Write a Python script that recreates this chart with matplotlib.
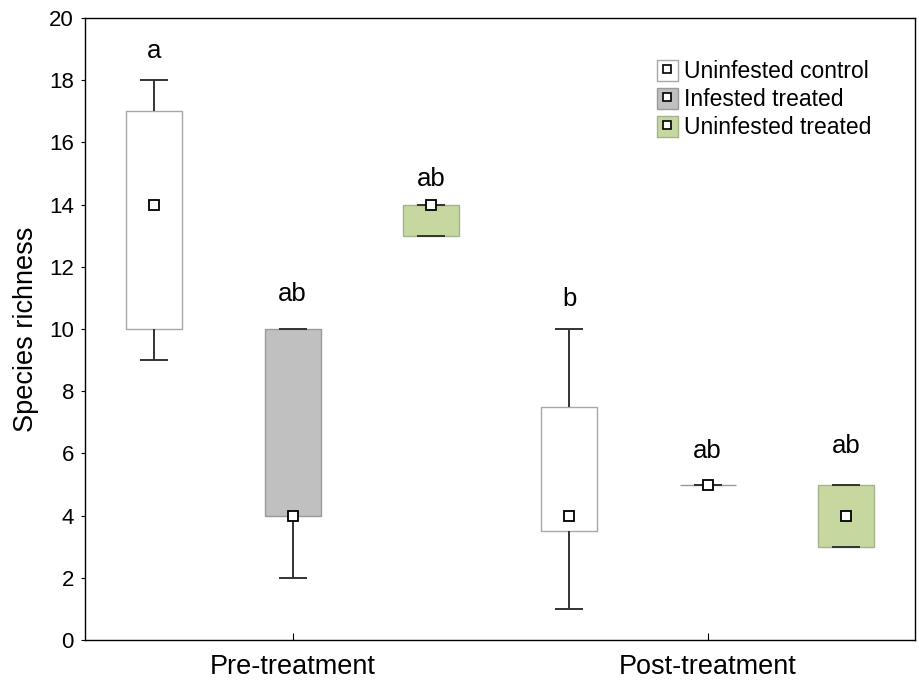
import matplotlib.pyplot as plt
from matplotlib.patches import Rectangle, Patch
from matplotlib.lines import Line2D
from matplotlib.legend_handler import HandlerTuple

plt.rcParams['font.family'] = ['Liberation Sans', 'DejaVu Sans']

groups = ['Pre-treatment', 'Post-treatment']
treatments = ['Uninfested control', 'Infested treated', 'Uninfested treated']
# per group, per treatment
medians = [[14, 4, 14], [4, 5, 4]]
q1 = [[10, 4, 13], [3.5, 5, 3]]
q3 = [[17, 10, 14], [7.5, 5, 5]]
mins = [[9, 2, 13], [1, 5, 3]]
maxs = [[18, 10, 14], [10, 5, 5]]
letters = [['a', 'ab', 'ab'], ['b', 'ab', 'ab']]
letter_y = [[18.72, 10.9, 14.6], [10.75, 5.84, 6.0]]

faces = ['white', '#c0c0c0', '#c6d89f']
edges = ['#a8a8a8', '#9a9a9a', '#a3b38a']
offsets = [-1/3, 0, 1/3]
bw = 0.135
cw = bw / 2

fig = plt.figure(figsize=(9.2, 6.8), dpi=100)
ax = fig.add_axes([0.0924, 0.0588, 0.9022, 0.9147])

for g in range(len(groups)):
    for t in range(len(treatments)):
        x = g + offsets[t]
        ax.add_patch(Rectangle((x - bw/2, q1[g][t]), bw, q3[g][t] - q1[g][t],
                               facecolor=faces[t], edgecolor=edges[t], lw=1.0, zorder=2))
        if mins[g][t] < q1[g][t]:
            ax.vlines(x, mins[g][t], q1[g][t], color='#333333', lw=1.4, zorder=3)
        if maxs[g][t] > q3[g][t]:
            ax.vlines(x, q3[g][t], maxs[g][t], color='#333333', lw=1.4, zorder=3)
        ax.hlines([mins[g][t], maxs[g][t]], x - cw/2, x + cw/2, color='#333333', lw=1.4, zorder=3)
        ax.plot(x, medians[g][t], 's', ms=6.5, mfc='white', mec='black', mew=1.3, zorder=4)
        ax.text(x, letter_y[g][t], letters[g][t], ha='center', va='baseline', fontsize=18.5)

ax.set_xlim(-0.5, 1.5)
ax.set_ylim(0, 20)
ax.set_yticks(range(0, 21, 2))
ax.set_xticks(range(len(groups)))
ax.set_xticklabels(groups, fontsize=19.5)
ax.tick_params(axis='y', direction='out', length=3, labelsize=16, pad=5)
ax.tick_params(axis='x', direction='in', length=5, pad=10)
ax.set_ylabel('Species richness', fontsize=19.5, labelpad=7)
for s in ax.spines.values():
    s.set_linewidth(1.0)

handles = [(Patch(facecolor=faces[t], edgecolor=edges[t]),
            Line2D([], [], marker='s', ls='', ms=6, mfc='white', mec='black', mew=1.2))
           for t in range(len(treatments))]
ax.legend(handles, treatments, handler_map={tuple: HandlerTuple(ndivide=1)},
          loc='upper left', bbox_to_anchor=(0.689, 0.933), frameon=False, fontsize=16.5,
          handlelength=0.9, handleheight=1.05, handletextpad=0.3, labelspacing=0.2,
          borderaxespad=0, borderpad=0)

fig.savefig('out.png', dpi=100)
